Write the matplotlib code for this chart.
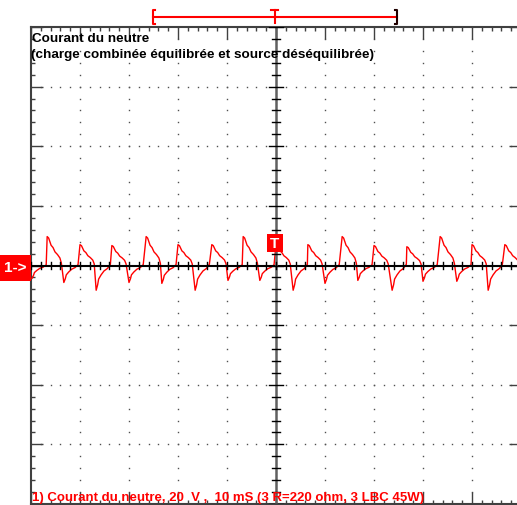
import numpy as np
import matplotlib.pyplot as plt
from matplotlib.patches import Rectangle

plt.rcParams['font.family'] = ['Liberation Sans', 'DejaVu Sans']

# Réglages de l'oscillo : 10 ms/div, 20 V/div, 10 x 8 divisions
t_div = 10
v_div = 20
n_tdiv = 10
n_vdiv = 8

# Pointes du courant de neutre lues à l'écran : instant (ms, T = 0) et crête (V)
pos_t = [-46.7, -40.0, -33.5, -26.5, -20.0, -13.1, -6.7, 0.0, 6.5, 13.5, 20.0, 26.7, 33.5, 40.0, 46.7]
pos_v = [9.7, 7.0, 6.7, 9.7, 7.0, 7.0, 9.7, 7.0, 7.0, 9.7, 6.7, 6.3, 9.7, 7.0, 7.0]
neg_t = [-49.8, -43.3, -36.7, -30.0, -23.3, -16.5, -9.8, -3.3, 3.5, 10.0, 16.7, 23.7, 30.0, 36.9, 43.3, 49.8]
neg_v = [-4.3, -5.7, -8.3, -5.7, -6.0, -8.3, -5.0, -5.0, -8.3, -6.0, -5.0, -8.3, -5.3, -5.3, -8.3, -5.0]

# Retombée après chaque pointe (décalage en ms, fraction de la crête), lue sur une pointe
pos_dt = [0.0, 0.3, 0.8, 1.2, 1.6, 2.1, 2.6, 2.9]
pos_k = [1.0, 0.95, 0.70, 0.62, 0.47, 0.38, 0.26, 0.08]
neg_dt = [0.0, 0.3, 0.5, 1.0, 1.6, 2.3, 2.9]
neg_k = [1.0, 0.78, 0.55, 0.38, 0.22, 0.12, -0.05]

titre = "Courant du neutre"
sous_titre = "(charge combinée équilibrée et source déséquilibrée)"
legende = "1) Courant du neutre, 20  V ,  10 mS (3 R=220 ohm, 3 LBC 45W)"

rouge = '#ff0000'
gris = '#404040'

# Construction de la trace
pointes = [(t, v, pos_dt, pos_k) for t, v in zip(pos_t, pos_v)]
pointes += [(t, v, neg_dt, neg_k) for t, v in zip(neg_t, neg_v)]
pointes.sort(key=lambda p: p[0])
trace_t, trace_v = [], []
for t0, v0, dts, ks in pointes:
    for dt, k in zip(dts, ks):
        trace_t.append(t0 + dt)
        trace_v.append(v0 * k)

W, H = 517, 506
fig = plt.figure(figsize=(W / 100, H / 100), dpi=100)

# Ecran : bord gauche à 31 px, haut à 28 px, 49 px/div en x, ~60 px/div en y
ax = fig.add_axes([31 / W, 1 / H, 490 / W, 477 / H])
tmax = t_div * n_tdiv / 2
vmax = v_div * n_vdiv / 2
ax.set_xlim(-tmax, tmax)
ax.set_ylim(-vmax, vmax)

# Grille pointillée (un point par sous-division)
xs_min = np.arange(-tmax, tmax + 0.01, t_div / 5)
ys_min = np.arange(-vmax, vmax + 0.01, v_div / 5)
for yg in np.arange(-vmax + v_div, vmax, v_div):
    if yg != 0:
        ax.plot(xs_min, np.full_like(xs_min, yg), 's', color='#505050', ms=1.0, mew=0, zorder=1)
for xg in np.arange(-tmax + t_div, tmax, t_div):
    if xg != 0:
        ax.plot(np.full_like(ys_min, xg), ys_min, 's', color='#505050', ms=1.0, mew=0, zorder=1)

# Trace
ax.plot(trace_t, trace_v, color=rouge, lw=1.0, zorder=3)

# Axes centraux gradués
ax.axhline(0, color='#000000', lw=1.5, zorder=4)
ax.axvline(0, color='#606060', lw=1.8, zorder=4)
dx_tick = 4 / 49 * t_div
dy_tick = 4 / 60 * v_div
for x in xs_min:
    ax.plot([x, x], [-dy_tick, dy_tick], color='#000000', lw=1.0, zorder=4)
for y in ys_min:
    demi = dx_tick * (1.8 if abs(y % v_div) < 1e-6 else 1.0)
    ax.plot([-demi, demi], [y, y], color='#000000', lw=1.0, zorder=4)

# Bords gradués
ax.set_xticks(np.arange(-tmax, tmax + 0.01, t_div))
ax.set_xticks(xs_min, minor=True)
ax.set_yticks(np.arange(-vmax, vmax + 0.01, v_div))
ax.set_yticks(ys_min, minor=True)
ax.tick_params(which='both', direction='in', top=True, right=True, bottom=True, left=True,
               labelbottom=False, labelleft=False, color=gris, width=1.0)
ax.tick_params(which='major', length=8.5)
ax.tick_params(which='minor', length=3.2)
for s in ax.spines.values():
    s.set_color(gris)
    s.set_linewidth(1.5)

# Surcouche en pixels pour les textes et repères
ov = fig.add_axes([0, 0, 1, 1])
ov.set_xlim(0, W)
ov.set_ylim(H, 0)
ov.axis('off')

ov.text(32, 42, titre, fontsize=9.7, fontweight='bold', color='black', va='baseline')
ov.text(31, 58, sous_titre, fontsize=9.7, fontweight='bold', color='black', va='baseline')
ov.text(32, 501, legende, fontsize=9.5, fontweight='bold', color=rouge, va='baseline')

# Repère de voie "1->"
ov.add_patch(Rectangle((0, 256), 31, 26, color=rouge, lw=0))
ov.text(15, 268, "1->", fontsize=11, fontweight='bold', color='white', ha='center', va='center')

# Repère de déclenchement "T"
ov.add_patch(Rectangle((267, 235), 16, 18, color=rouge, lw=0))
ov.text(275, 244.5, "T", fontsize=11, fontweight='bold', color='white', ha='center', va='center')

# Position de la fenêtre dans la mémoire
ov.plot([153, 397], [18, 18], color=rouge, lw=1.5)
ov.plot([155, 153, 153, 155], [11, 11, 25, 25], color=rouge, lw=1.5)
ov.plot([395, 397, 397, 395], [11, 11, 25, 25], color='#200000', lw=1.5)
ov.plot([271, 278], [11, 11], color=rouge, lw=1.5)
ov.plot([274.5, 274.5], [11, 24], color=rouge, lw=1.5)

fig.savefig('out.png', dpi=100)
